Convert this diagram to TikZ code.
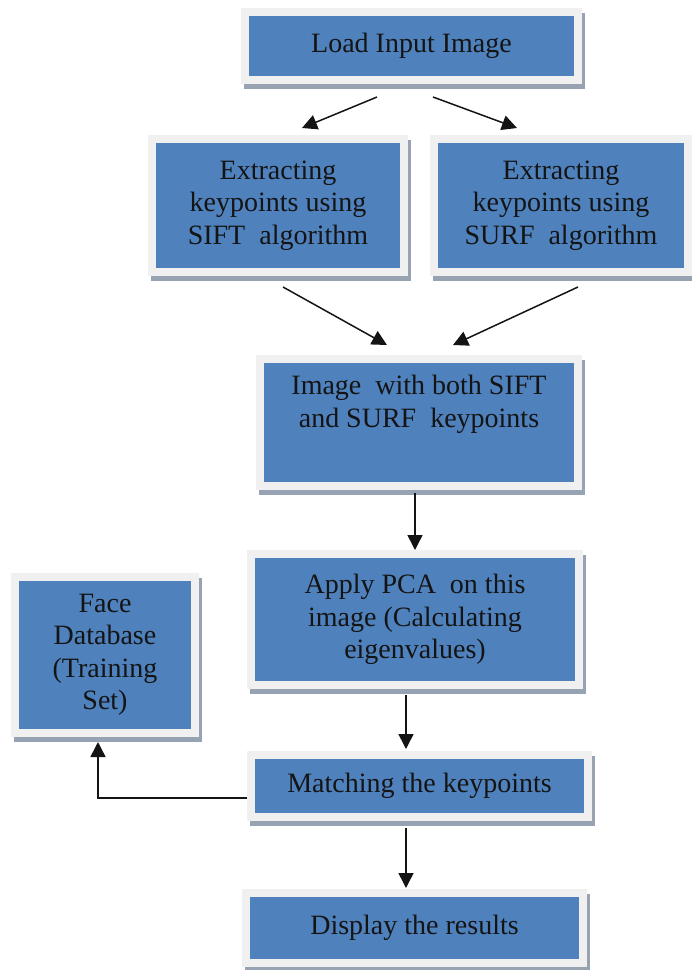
\documentclass[tikz,border=0pt]{standalone}
\usepackage{fontspec}
\setmainfont{Liberation Serif}
\usepackage{tikz}
\usetikzlibrary{
  arrows.meta,
  positioning,
  shadows,
}
\definecolor{boxBlue}{HTML}{4F81BD}
\definecolor{rimGray}{HTML}{F0F0F0}
\definecolor{shadeGray}{HTML}{97A2B3}
\definecolor{inkDark}{HTML}{141414}

\begin{document}
\begin{tikzpicture}[x=1pt, y=-1pt,
  procbox/.style={rectangle, fill=boxBlue, draw=rimGray, line width=8pt,
    inner sep=0pt, align=center, text=inkDark,
    font=\fontsize{28}{32.5}\selectfont,
    drop shadow={shadow xshift=3pt, shadow yshift=-5pt, opacity=1,
      fill=shadeGray, draw=shadeGray, line width=8pt}},
  arr/.style={-{Triangle[length=15pt, width=15pt]}, line width=1.5pt, inkDark},
  ]
  \useasboundingbox (0,0) rectangle (692,970);
  % boxes
  \node[procbox, minimum width=333pt, minimum height=68pt] (load)
    at (411.5,46) {Load Input Image};
  \node[procbox, minimum width=252pt, minimum height=133pt] (sift)
    at (278,205.5) {Extracting\\keypoints using\\SIFT\ \ algorithm};
  \node[procbox, minimum width=254pt, minimum height=133pt] (surf)
    at (561,205.5) {Extracting\\keypoints using\\SURF\ \ algorithm};
  \node[procbox, minimum width=318pt, minimum height=127pt] (both)
    at (419,422.5) {Image\ \ with both SIFT\\and SURF\ \ keypoints\\\strut};
  \node[procbox, minimum width=328pt, minimum height=131pt] (pca)
    at (415,619.5) {Apply PCA\ \ on this\\image (Calculating\\eigenvalues)};
  \node[procbox, minimum width=180pt, minimum height=156pt] (face)
    at (105,655) {Face\\Database\\(Training\\Set)};
  \node[procbox, minimum width=337pt, minimum height=62pt] (match)
    at (419.5,786) {Matching the keypoints};
  \node[procbox, minimum width=337pt, minimum height=70pt] (disp)
    at (414.5,928) {Display the results};
  % arrows
  \draw[arr] ([xshift=-34.5pt, yshift=-13pt]load.south) -- ([xshift=24pt, yshift=7pt]sift.north);
  \draw[arr] ([xshift=21.5pt, yshift=-13pt]load.south) -- ([xshift=-44pt, yshift=7pt]surf.north);
  \draw[arr] ([xshift=5pt, yshift=-11pt]sift.south) -- ([xshift=-32pt, yshift=10pt]both.north);
  \draw[arr] ([xshift=17pt, yshift=-11pt]surf.south) -- ([xshift=34pt, yshift=10pt]both.north);
  \draw[arr] ([xshift=-4pt, yshift=-3pt]both.south) -- (pca.north);
  \draw[arr] ([xshift=-9pt, yshift=-6pt]pca.south) -- ([xshift=-13.5pt, yshift=2pt]match.north);
  \draw[arr] ([xshift=-13.5pt, yshift=-7pt]match.south) -- ([xshift=-8.5pt, yshift=1pt]disp.north);
  \draw[arr] ([yshift=-12pt]match.west) -| ([xshift=-7pt, yshift=-5pt]face.south);
\end{tikzpicture}
\end{document}
